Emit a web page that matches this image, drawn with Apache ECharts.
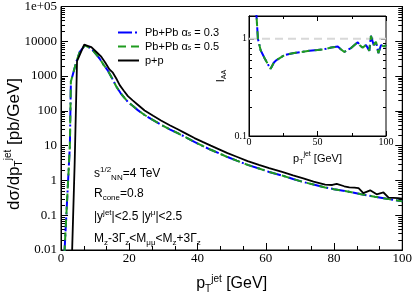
<!DOCTYPE html>
<html><head><meta charset="utf-8">
<script src="https://cdn.jsdelivr.net/npm/echarts@6/dist/echarts.min.js"></script>
<style>html,body{margin:0;padding:0;background:#fff}#c{width:415px;height:299px}</style>
</head><body><div id="c"></div>
<script>
// ---- data ----
const ppPt  = [3.2, 4.0, 4.7, 6.8, 8.0, 8.9, 10.3, 11.8, 13.0, 14.2, 15.2, 16.2, 17.2, 18.4, 19.6, 21, 22.5, 24.5, 27, 29.3, 32, 34.2, 36.5, 39.1, 41.5, 43.9, 46.5, 48.8, 51.5, 54.7, 58, 61, 64.8, 68, 71, 74, 77.4, 79.5, 80.8, 83, 84.5, 86, 87.2, 88.6, 90.6, 92.5, 94.5, 96, 98.8, 100];
const ppVal = [0.006, 3, 2700, 8000, 7300, 6800, 5000, 3600, 2400, 1550, 1250, 850, 550, 380, 265, 200, 150, 102, 72, 53, 38, 29.5, 22.5, 16.5, 12.8, 10, 7.7, 6.1, 4.8, 3.6, 2.8, 2.25, 1.75, 1.4, 1.15, 0.93, 0.76, 0.74, 0.8, 0.68, 0.63, 0.62, 0.6, 0.43, 0.52, 0.4, 0.45, 0.32, 0.31, 0.3];
const pbPt  = [1.0, 2.6, 2.9, 4.5, 5.5, 7.0, 8.9, 10, 11.3, 12.5, 13.8, 15, 16.2, 17.5, 19.6, 21, 22.5, 24.5, 27, 29.3, 32, 34.2, 36.5, 39.1, 41.5, 43.9, 46.5, 48.8, 51.5, 54.7, 58, 61, 64.8, 68, 71, 74, 77.4, 80, 84, 88, 92, 96, 100];
const pbVal03 = [0.008, 10, 700, 2600, 5000, 7600, 6200, 4600, 3200, 2100, 1400, 850, 500, 320, 180, 140, 105, 76, 54, 40, 29, 23, 17.5, 12.8, 9.8, 7.6, 5.9, 4.7, 3.7, 2.8, 2.2, 1.75, 1.38, 1.1, 0.9, 0.76, 0.63, 0.56, 0.48, 0.4, 0.34, 0.29, 0.25];
const pbVal05 = [0.008, 10, 700, 2600, 5000, 7600, 6200, 4600, 3200, 2100, 1400, 850, 500, 320, 180, 140, 105, 76, 54, 40, 29, 23, 17.5, 12.8, 9.8, 7.6, 5.9, 4.7, 3.7, 2.8, 2.2, 1.75, 1.38, 1.1, 0.9, 0.76, 0.63, 0.56, 0.48, 0.4, 0.34, 0.29, 0.25];
const iaaPt = [5.0, 6.5, 8.5, 11.4, 13.8, 15.8, 18.2, 19.9, 26, 32, 38, 44, 50, 55, 60, 64.8, 67, 69.6, 72, 74.5, 77, 79.4, 81, 83, 85.4, 87.8, 89, 91, 92.7, 94.4, 96.4, 98.8, 100];
const iaa03 = [2.2, 1.0, 0.76, 0.63, 0.545, 0.49, 0.57, 0.6, 0.68, 0.71, 0.73, 0.75, 0.765, 0.78, 0.81, 0.83, 0.78, 0.73, 0.77, 0.8, 0.86, 0.92, 0.85, 0.81, 0.86, 0.75, 1.07, 0.86, 0.93, 0.71, 0.86, 0.83, 0.86];
const iaa05 = [2.2, 1.0, 0.76, 0.63, 0.545, 0.49, 0.57, 0.6, 0.68, 0.71, 0.73, 0.75, 0.765, 0.78, 0.81, 0.83, 0.78, 0.73, 0.77, 0.8, 0.86, 0.92, 0.85, 0.81, 0.86, 0.75, 1.07, 0.86, 0.93, 0.71, 0.86, 0.83, 0.86];
const refLine = [[0, 1], [100, 1]];
const seriesNames = ['Pb+Pb α_s = 0.3', 'Pb+Pb α_s = 0.5', 'p+p'];
const yTickLabels = ['0.01', '0.1', '1', '10', '100', '1000', '10000', '1e+05'];
const insetYTicks = [0.1, 1];
const insetYLabels = ['0.1', '1'];
const minorMults = [2, 3, 4, 5, 6, 7, 8, 9];

const zip = (a, b) => a.map((v, i) => [v, b[i]]);
const mainMinor = [];
for (let e = -2; e < 5; e++) minorMults.forEach(m => mainMinor.push([0, m * Math.pow(10, e)]));
const insetMinor = minorMults.map(m => [0, m / 10]);
const insetMajor = insetYTicks.map(v => [0, v]);

const SERIF = 'Liberation Serif';
const SANS = 'Liberation Sans';
const BLUE = '#0000ff', GREEN = '#1f9b1f';

function tickRenderer(len) {
  return function (params, api) {
    const cs = params.coordSys;
    const y = Math.round(api.coord([0, api.value(1)])[1]) + 0.5;
    const st = { stroke: '#000', lineWidth: 1 };
    return { type: 'group', children: [
      { type: 'line', shape: { x1: cs.x, y1: y, x2: cs.x + len, y2: y }, style: st },
      { type: 'line', shape: { x1: cs.x + cs.width, y1: y, x2: cs.x + cs.width - len, y2: y }, style: st }
    ] };
  };
}
function labelRenderer(params, api) {
  const cs = params.coordSys;
  const v = api.value(1);
  const y = api.coord([0, v])[1];
  const e = Math.round(Math.log10(v));
  return { type: 'text', x: cs.x - 2, y: y,
    style: { text: insetYLabels[e + 1], fontFamily: SERIF, fontSize: 10, fill: '#000', align: 'right', verticalAlign: 'middle' } };
}

const richBase = (fs, sfs) => ({
  m: { fontFamily: SANS, fontSize: fs, color: '#000', lineHeight: fs + 4 },
  sub: { fontFamily: SANS, fontSize: sfs, color: '#000', lineHeight: sfs + 1, verticalAlign: 'bottom' },
  sup: { fontFamily: SANS, fontSize: sfs, color: '#000', lineHeight: sfs + 1, verticalAlign: 'top' }
});

const axisBlack = { lineStyle: { color: '#000', width: 1 } };

const chart = echarts.init(document.getElementById('c'), null, { renderer: 'canvas' });
chart.setOption({
  animation: false,
  backgroundColor: '#fff',
  grid: [
    { left: 61, top: 5, width: 343, height: 257, show: true, borderColor: '#000', borderWidth: 1, backgroundColor: 'transparent' },
    { left: 249, top: 16, width: 137, height: 120, show: true, borderColor: '#000', borderWidth: 1, backgroundColor: 'transparent' }
  ],
  xAxis: [
    { gridIndex: 0, type: 'value', min: 0, max: 100, interval: 20, axisLine: axisBlack,
      axisTick: { inside: true, length: 7, lineStyle: { color: '#000' } },
      minorTick: { show: true, splitNumber: 3, length: 4, lineStyle: { color: '#000' } },
      splitLine: { show: false },
      axisLabel: { fontFamily: SERIF, fontSize: 13, color: '#000', margin: 2 },
      name: '{m|p}{sub|T}{sup|jet}{m| [GeV]}', nameLocation: 'middle', nameGap: 24,
      nameTextStyle: { rich: richBase(16, 10) } },
    { gridIndex: 1, type: 'value', min: 0, max: 100, interval: 50, axisLine: axisBlack,
      axisTick: { inside: true, length: 5, lineStyle: { color: '#000' } },
      minorTick: { show: true, splitNumber: 2, length: 3, lineStyle: { color: '#000' } },
      splitLine: { show: false },
      axisLabel: { fontFamily: SERIF, fontSize: 10, color: '#000', margin: 1 },
      name: '{m|p}{sub|T}{sup|jet}{m| [GeV]}', nameLocation: 'middle', nameGap: 15,
      nameTextStyle: { rich: richBase(11, 7) } },
    { gridIndex: 1, type: 'value', position: 'top', min: 0, max: 100, interval: 50, axisLine: axisBlack,
      axisTick: { inside: true, length: 5, lineStyle: { color: '#000' } },
      minorTick: { show: true, splitNumber: 2, length: 3, lineStyle: { color: '#000' } },
      splitLine: { show: false }, axisLabel: { show: false } }
  ],
  yAxis: [
    { gridIndex: 0, type: 'log', logBase: 10, min: 0.01, max: 100000, axisLine: axisBlack,
      axisTick: { inside: true, length: 7, lineStyle: { color: '#000' } },
      splitLine: { show: false },
      axisLabel: { fontFamily: SERIF, fontSize: 13, color: '#000', margin: 4,
        formatter: v => yTickLabels[Math.round(Math.log10(v)) + 2] } },
    { gridIndex: 0, type: 'log', logBase: 10, min: 0.01, max: 100000, position: 'right', axisLine: axisBlack,
      axisTick: { inside: true, length: 7, lineStyle: { color: '#000' } },
      splitLine: { show: false }, axisLabel: { show: false } },
    { gridIndex: 1, type: 'log', logBase: 10, min: 0.1, max: 1.71, axisLine: axisBlack,
      axisTick: { show: false }, splitLine: { show: false }, axisLabel: { show: false },
      name: '{m|I}{sub|AA}', nameLocation: 'middle', nameGap: 21, nameRotate: 90,
      nameTextStyle: { rich: richBase(11, 7) } },
    { gridIndex: 1, type: 'log', logBase: 10, min: 0.1, max: 1.71, position: 'right', axisLine: axisBlack,
      axisTick: { show: false }, splitLine: { show: false }, axisLabel: { show: false } }
  ],
  legend: {
    orient: 'vertical', left: 117, top: 27, padding: 0, itemWidth: 21, itemHeight: 10, itemGap: 3,
    data: seriesNames,
    itemStyle: { color: 'rgba(0,0,0,0)', borderWidth: 0, opacity: 0 },
    formatter: n => n.replace('α_s', 'α{sub|s}'),
    textStyle: { fontFamily: SANS, fontSize: 11, color: '#000', padding: [0, 0, 0, 1],
      rich: { sub: { fontFamily: SANS, fontSize: 7, color: '#000', verticalAlign: 'bottom', lineHeight: 8 } } }
  },
  graphic: [
    { type: 'text', x: 14, y: 144, rotation: Math.PI / 2,
      style: { text: '{m|dσ/dp}{sub|T}{sup|jet}{m| [pb/GeV]}', rich: richBase(17, 10), align: 'center', verticalAlign: 'middle' } },
    { type: 'text', x: 94, y: 174, style: { text: '{m|s}{sup|1/2}{sub|NN}{m|=4 TeV}', rich: richBase(12, 8), align: 'left', verticalAlign: 'middle' } },
    { type: 'text', x: 94, y: 194, style: { text: '{m|R}{sub|cone}{m|=0.8}', rich: richBase(12, 8), align: 'left', verticalAlign: 'middle' } },
    { type: 'text', x: 94, y: 217, style: { text: '{m|\u007Cy}{sup|jet}{m|\u007C<2.5 \u007Cy}{sup|μ}{m|\u007C<2.5}', rich: richBase(12, 8), align: 'left', verticalAlign: 'middle' } },
    { type: 'text', x: 94, y: 239, style: { text: '{m|M}{sub|z}{m|-3Γ}{sub|z}{m|<M}{sub|μμ}{m|<M}{sub|z}{m|+3Γ}{sub|z}', rich: richBase(12, 8), align: 'left', verticalAlign: 'middle' } }
  ],
  series: [
    { type: 'custom', xAxisIndex: 0, yAxisIndex: 0, data: mainMinor, renderItem: tickRenderer(4), silent: true, clip: false, z: 1 },
    { type: 'custom', xAxisIndex: 1, yAxisIndex: 2, data: insetMinor, renderItem: tickRenderer(3), silent: true, clip: false, z: 1 },
    { type: 'custom', xAxisIndex: 1, yAxisIndex: 2, data: insetMajor, renderItem: tickRenderer(5), silent: true, clip: false, z: 1 },
    { type: 'custom', xAxisIndex: 1, yAxisIndex: 2, data: insetMajor, renderItem: labelRenderer, silent: true, clip: false, z: 1 },
    { name: seriesNames[0], type: 'line', xAxisIndex: 0, yAxisIndex: 0, data: zip(pbPt, pbVal03), symbol: 'none', clip: true,
      lineStyle: { color: BLUE, width: 2, type: [14, 3, 2, 3] }, itemStyle: { color: BLUE }, z: 3 },
    { name: seriesNames[1], type: 'line', xAxisIndex: 0, yAxisIndex: 0, data: zip(pbPt, pbVal05), symbol: 'none', clip: true,
      lineStyle: { color: GREEN, width: 2, type: [8, 5] }, itemStyle: { color: GREEN }, z: 4 },
    { name: seriesNames[2], type: 'line', xAxisIndex: 0, yAxisIndex: 0, data: zip(ppPt, ppVal), symbol: 'none', clip: true,
      lineStyle: { color: '#000', width: 1.8 }, itemStyle: { color: '#000' }, z: 5 },
    { type: 'line', xAxisIndex: 1, yAxisIndex: 2, data: refLine, symbol: 'none', silent: true,
      lineStyle: { color: '#d8d8d8', width: 2, type: [8, 5] }, z: 2 },
    { type: 'line', xAxisIndex: 1, yAxisIndex: 2, data: zip(iaaPt, iaa03), symbol: 'none', clip: true,
      lineStyle: { color: BLUE, width: 2, type: [14, 3, 2, 3] }, z: 3 },
    { type: 'line', xAxisIndex: 1, yAxisIndex: 2, data: zip(iaaPt, iaa05), symbol: 'none', clip: true,
      lineStyle: { color: GREEN, width: 2, type: [8, 5] }, z: 4 }
  ]
});
</script></body></html>
